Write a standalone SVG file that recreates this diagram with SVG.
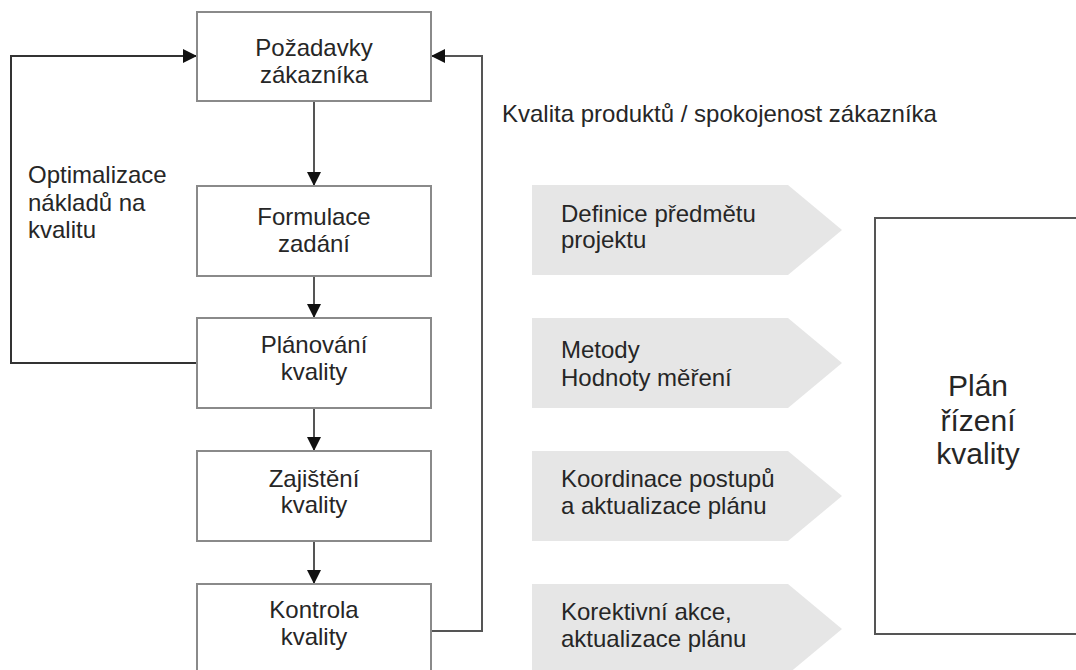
<svg xmlns="http://www.w3.org/2000/svg" width="1076" height="670" viewBox="0 0 1076 670">
<style>
text{font-family:"Liberation Sans",Arial,sans-serif;fill:#262626;}
.t{font-size:24px;}
.c{text-anchor:middle;}
.box{fill:#fff;stroke:#8a8a8a;stroke-width:2;}
.chev{fill:#e6e6e6;stroke:none;}
.ln{fill:none;stroke:#555;stroke-width:2;}
.big{font-size:30px;}
</style>
<defs>
<marker id="ah" markerUnits="userSpaceOnUse" markerWidth="15" markerHeight="14" refX="14" refY="7" orient="auto">
<path d="M0,0 L14,7 L0,14 z" fill="#111"/>
</marker>
</defs>
<rect width="1076" height="670" fill="#fff"/>

<g id="connectors">
<line class="ln" x1="314" y1="101" x2="314" y2="186" marker-end="url(#ah)"/>
<line class="ln" x1="314" y1="276" x2="314" y2="318" marker-end="url(#ah)"/>
<line class="ln" x1="314" y1="408" x2="314" y2="451" marker-end="url(#ah)"/>
<line class="ln" x1="314" y1="541" x2="314" y2="584" marker-end="url(#ah)"/>
<polyline class="ln" points="197,363 11,363 11,56 197,56" marker-end="url(#ah)" style="stroke:#333"/>
<polyline class="ln" points="431,631 482,631 482,56 431,56" marker-end="url(#ah)"/>
</g>

<g id="n1">
<rect class="box" x="197" y="12" width="234" height="89"/>
<text class="t c" x="314" y="56">Požadavky</text>
<text class="t c" x="314" y="83">zákazníka</text>
</g>
<g id="n2">
<rect class="box" x="197" y="186" width="234" height="90"/>
<text class="t c" x="314" y="225">Formulace</text>
<text class="t c" x="314" y="252">zadání</text>
</g>
<g id="n3">
<rect class="box" x="197" y="318" width="234" height="90"/>
<text class="t c" x="314" y="353">Plánování</text>
<text class="t c" x="314" y="380">kvality</text>
</g>
<g id="n4">
<rect class="box" x="197" y="451" width="234" height="90"/>
<text class="t c" x="314" y="487">Zajištění</text>
<text class="t c" x="314" y="513">kvality</text>
</g>
<g id="n5">
<rect class="box" x="197" y="584" width="234" height="92"/>
<text class="t c" x="314" y="618">Kontrola</text>
<text class="t c" x="314" y="645">kvality</text>
</g>

<g id="label-left">
<text class="t" x="28" y="183">Optimalizace</text>
<text class="t" x="28" y="211">nákladů na</text>
<text class="t" x="28" y="238">kvalitu</text>
</g>
<g id="label-top">
<text class="t" x="502" y="122">Kvalita produktů / spokojenost zákazníka</text>
</g>

<g id="c1">
<polygon class="chev" points="532,185 788,185 842,230 788,275 532,275"/>
<text class="t" x="561" y="222">Definice předmětu</text>
<text class="t" x="561" y="248">projektu</text>
</g>
<g id="c2">
<polygon class="chev" points="532,318 788,318 842,363 788,408 532,408"/>
<text class="t" x="561" y="358">Metody</text>
<text class="t" x="561" y="386">Hodnoty měření</text>
</g>
<g id="c3">
<polygon class="chev" points="532,451 788,451 842,496 788,541 532,541"/>
<text class="t" x="561" y="487">Koordinace postupů</text>
<text class="t" x="561" y="514">a aktualizace plánu</text>
</g>
<g id="c4">
<polygon class="chev" points="532,584 788,584 842,629 788,674 532,674"/>
<text class="t" x="561" y="620">Korektivní akce,</text>
<text class="t" x="561" y="647">aktualizace plánu</text>
</g>

<g id="plan">
<rect x="875" y="218" width="210" height="416" fill="#fff" stroke="#555" stroke-width="2"/>
<text class="big c" x="978" y="396">Plán</text>
<text class="big c" x="978" y="431">řízení</text>
<text class="big c" x="978" y="464">kvality</text>
</g>
</svg>
